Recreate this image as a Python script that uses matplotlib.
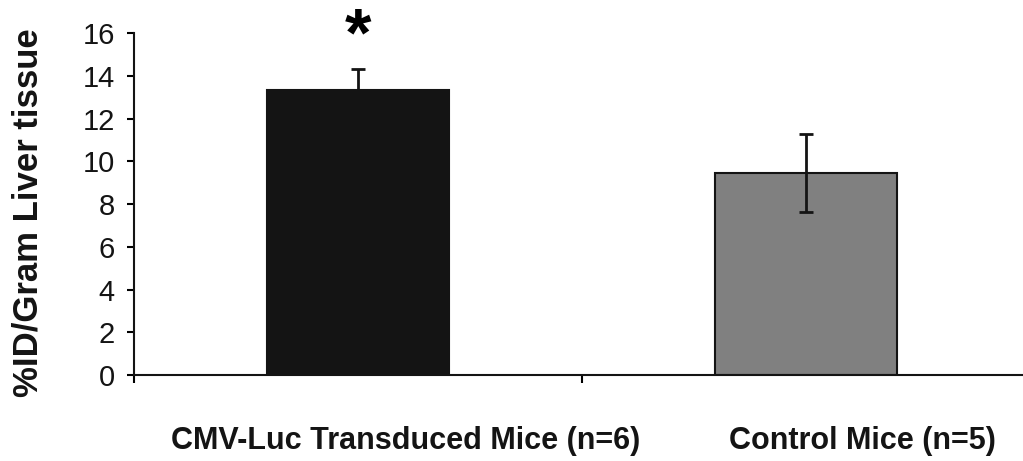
import matplotlib.pyplot as plt
from matplotlib.ticker import FixedLocator
import matplotlib.transforms as mtransforms

plt.rcParams['font.family'] = ['Liberation Sans', 'DejaVu Sans']

# data
groups = ["CMV-Luc Transduced Mice (n=6)", "Control Mice (n=5)"]
values = [13.35, 9.45]
errors = [1.0, 1.82]
colors = ["#141414", "#808080"]
label_x = [0.1065, 1.1266]
yticks = [0, 2, 4, 6, 8, 10, 12, 14, 16]

fig = plt.figure(figsize=(10.23, 4.61), dpi=100)
ax = fig.add_axes([0.1313, 0.1866, 0.8755, 0.7412])

x = list(range(len(groups)))
ax.bar(x, values, width=0.407, color=colors, edgecolor="#141414", linewidth=1.5, zorder=2)
ax.errorbar(x, values, yerr=errors, fmt="none", ecolor="#141414",
            elinewidth=2, capsize=5.3, capthick=2, zorder=3)

# significance star
ax.text(0, 15.8, "*", ha="center", va="center", fontsize=49, fontweight="bold",
        clip_on=False)

ax.set_xlim(-0.5, 1.5)
ax.set_ylim(0, 16)
ax.set_yticks(yticks)
ax.xaxis.set_major_locator(FixedLocator([-0.5, 0.5, 1.5]))
ax.set_xticklabels([])
ax.tick_params(axis="y", direction="out", length=5, width=1.5, labelsize=21, pad=9,
               labelcolor="#141414")
ax.tick_params(axis="x", direction="out", length=6, width=1.5)

for s in ["top", "right"]:
    ax.spines[s].set_visible(False)
for s in ["left", "bottom"]:
    ax.spines[s].set_linewidth(1.5)
    ax.spines[s].set_color("#141414")

ax.set_ylabel("%ID/Gram Liver tissue", fontsize=25, fontweight="bold", color="#141414")
ax.yaxis.set_label_coords(-0.1008, 0.4756)

trans = mtransforms.blended_transform_factory(ax.transData, fig.transFigure)
for lx, g in zip(label_x, groups):
    ax.text(lx, 0.043, g, transform=trans, ha="center", va="center",
            fontsize=22, fontweight="bold", color="#141414")

fig.savefig("out.png", dpi=100)
